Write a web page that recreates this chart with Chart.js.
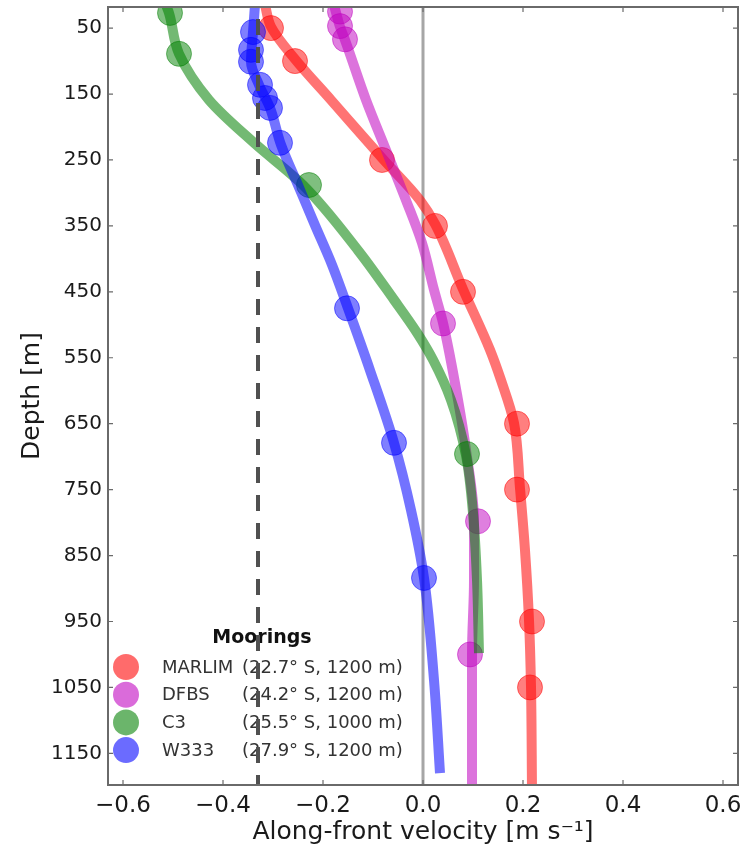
<!DOCTYPE html>
<html><head><meta charset="utf-8">
<script src="https://cdn.jsdelivr.net/npm/chart.js@4.4.1/dist/chart.umd.min.js"></script>
<style>html,body{margin:0;padding:0;background:#fff;}#wrap{width:745px;height:850px;}</style>
</head><body><div id="wrap"><canvas id="c" width="745" height="850"></canvas></div>
<script>
// ---- data ----
const moorings = ['MARLIM', 'DFBS', 'C3', 'W333'];
const mooringInfo = ['(22.7° S, 1200 m)', '(24.2° S, 1200 m)', '(25.5° S, 1000 m)', '(27.9° S, 1200 m)'];
const mooringColors = ['255,0,0', '191,0,191', '0,128,0', '0,0,255'];

// observed points
const marlimDepth = [50, 100, 250, 350, 450, 650, 750, 950, 1050];
const marlimVel   = [-0.304, -0.256, -0.082, 0.024, 0.080, 0.188, 0.188, 0.218, 0.214];
const dfbsDepth = [25, 47, 67, 498, 798, 1000];
const dfbsVel   = [-0.166, -0.166, -0.156, 0.040, 0.110, 0.094];
const c3Depth = [27, 89, 288, 696];
const c3Vel   = [-0.506, -0.488, -0.228, 0.088];
const w333Depth = [56, 83, 101, 136, 156, 171, 224, 475, 679, 884];
const w333Vel   = [-0.340, -0.344, -0.344, -0.326, -0.316, -0.306, -0.286, -0.152, -0.058, 0.002];

// fitted profiles
const marlimFitDepth = [15, 48, 97, 159, 247, 311, 347, 446, 538, 584, 649, 748, 842, 948, 1049, 1205];
const marlimFitVel   = [-0.316, -0.304, -0.256, -0.184, -0.082, -0.006, 0.024, 0.080, 0.134, 0.156, 0.182, 0.194, 0.204, 0.212, 0.216, 0.218];
const dfbsFitDepth = [15, 48, 68, 159, 235, 311, 376, 447, 497, 614, 690, 798, 887, 999, 1205];
const dfbsFitVel   = [-0.178, -0.166, -0.156, -0.114, -0.074, -0.034, -0.002, 0.022, 0.040, 0.070, 0.086, 0.102, 0.102, 0.098, 0.098];
const c3FitDepth = [15, 27, 89, 159, 224, 288, 387, 462, 512, 553, 614, 698, 785, 887, 998];
const c3FitVel   = [-0.514, -0.508, -0.488, -0.428, -0.338, -0.240, -0.130, -0.058, -0.012, 0.020, 0.056, 0.086, 0.100, 0.108, 0.112];
const w333FitDepth = [15, 56, 101, 136, 171, 227, 288, 349, 409, 475, 569, 679, 781, 884, 1039, 1180];
const w333FitVel   = [-0.336, -0.340, -0.344, -0.328, -0.306, -0.284, -0.250, -0.216, -0.182, -0.150, -0.106, -0.058, -0.024, 0.002, 0.022, 0.034];

// reference lines
const zeroVel = 0.0;
const thresholdVel = -0.33;

// axes
const xTicks = [-0.6, -0.4, -0.2, 0.0, 0.2, 0.4, 0.6];
const xTickLabels = ['−0.6', '−0.4', '−0.2', '0.0', '0.2', '0.4', '0.6'];
const yTicks = [50, 150, 250, 350, 450, 550, 650, 750, 850, 950, 1050, 1150];
const xRange = [-0.63, 0.63];
const yRange = [18, 1198];

// ---- build chart ----
const pts = (vels, depths) => vels.map((v, i) => ({x: v, y: depths[i]}));
const rgba = (c, a) => `rgba(${c},${a})`;

const fitSets = [
  [marlimFitVel, marlimFitDepth], [dfbsFitVel, dfbsFitDepth], [c3FitVel, c3FitDepth], [w333FitVel, w333FitDepth]
];
const obsSets = [
  [marlimVel, marlimDepth], [dfbsVel, dfbsDepth], [c3Vel, c3Depth], [w333Vel, w333Depth]
];

const datasets = [];
moorings.forEach((name, k) => {
  const c = mooringColors[k];
  datasets.push({
    label: name + ' fit', data: pts(fitSets[k][0], fitSets[k][1]),
    borderColor: rgba(c, 0.55), borderWidth: 10, pointRadius: 0,
    cubicInterpolationMode: 'monotone', fill: false, clip: 0,
    borderCapStyle: 'butt', order: 20 - k * 2
  });
  datasets.push({
    label: name, data: pts(obsSets[k][0], obsSets[k][1]), showLine: false,
    pointRadius: 12.5, pointBackgroundColor: rgba(c, 0.5), pointBorderColor: rgba(c, 0.5),
    pointBorderWidth: 1, clip: 0, order: 19 - k * 2
  });
});
datasets.push({
  label: 'zero', data: [{x: zeroVel, y: yRange[0] - 5}, {x: zeroVel, y: yRange[1] + 5}],
  borderColor: 'rgba(150,150,150,0.85)', borderWidth: 3, pointRadius: 0, clip: 0, order: 30
});
datasets.push({
  label: 'threshold', data: [{x: thresholdVel, y: yRange[0]}, {x: thresholdVel, y: yRange[1] + 5}],
  borderColor: 'rgba(80,80,80,1)', borderWidth: 4, borderDash: [16, 12], borderDashOffset: 16,
  pointRadius: 0, clip: 0, order: 0
});

const legendPlugin = {
  id: 'mooringLegend',
  beforeDatasetsDraw(chart) {
    const ctx = chart.ctx, a = chart.chartArea;
    ctx.save();
    ctx.textBaseline = 'middle';
    ctx.textAlign = 'center';
    ctx.fillStyle = '#111';
    ctx.font = 'bold 19px "DejaVu Sans"';
    ctx.fillText('Moorings', a.left + 154, a.top + 631);
    ctx.textAlign = 'left';
    ctx.font = '18px "DejaVu Sans"';
    moorings.forEach((name, k) => {
      const y = a.top + 660 + k * 27.7;
      ctx.beginPath();
      ctx.arc(a.left + 18, y, 13, 0, Math.PI * 2);
      ctx.fillStyle = rgba(mooringColors[k], 0.58);
      ctx.fill();
      ctx.fillStyle = '#333';
      ctx.fillText(name, a.left + 54, y + 1);
      ctx.fillText(mooringInfo[k], a.left + 134, y + 1);
    });
    ctx.restore();
  }
};

const framePlugin = {
  id: 'frame',
  afterDraw(chart) {
    const ctx = chart.ctx, a = chart.chartArea;
    const xs = chart.scales.x, ys = chart.scales.y;
    ctx.save();
    ctx.strokeStyle = '#6a6a6a';
    ctx.lineWidth = 2;
    ctx.strokeRect(a.left, a.top, a.right - a.left, a.bottom - a.top);
    ctx.lineWidth = 1.2;
    ctx.beginPath();
    xTicks.forEach(v => {
      const px = xs.getPixelForValue(v);
      ctx.moveTo(px, a.bottom); ctx.lineTo(px, a.bottom - 5);
      ctx.moveTo(px, a.top); ctx.lineTo(px, a.top + 5);
    });
    yTicks.forEach(v => {
      const py = ys.getPixelForValue(v);
      ctx.moveTo(a.left, py); ctx.lineTo(a.left + 5, py);
      ctx.moveTo(a.right, py); ctx.lineTo(a.right - 5, py);
    });
    ctx.stroke();
    ctx.restore();
  }
};

new Chart(document.getElementById('c'), {
  type: 'line',
  data: {datasets},
  options: {
    responsive: false, animation: false, devicePixelRatio: 1,
    indexAxis: 'y',
    layout: {autoPadding: false, padding: {left: 0, right: 7, top: 7, bottom: 0}},
    plugins: {legend: {display: false}, tooltip: {enabled: false}},
    scales: {
      x: {
        type: 'linear', position: 'bottom', min: xRange[0], max: xRange[1],
        grid: {display: false, drawTicks: false}, border: {display: false},
        afterBuildTicks: s => { s.ticks = xTicks.map(v => ({value: v})); },
        afterFit: s => { s.height = 65; s.paddingLeft = 0; s.paddingRight = 0; },
        ticks: {
          autoSkip: false, maxRotation: 0, padding: 7, color: '#1a1a1a',
          font: {family: 'DejaVu Sans', size: 23},
          callback: (v, i) => xTickLabels[i]
        },
        title: {display: true, text: 'Along-front velocity [m s⁻¹]', color: '#1a1a1a',
          font: {family: 'DejaVu Sans', size: 25}, padding: {top: 0, bottom: 3}}
      },
      y: {
        type: 'linear', position: 'left', reverse: true, min: yRange[0], max: yRange[1],
        grid: {display: false, drawTicks: false}, border: {display: false},
        afterBuildTicks: s => { s.ticks = yTicks.map(v => ({value: v})); },
        afterFit: s => { s.width = 108; s.paddingTop = 0; s.paddingBottom = 0; },
        ticks: {
          autoSkip: false, padding: 6, color: '#1a1a1a',
          font: {family: 'DejaVu Sans', size: 20},
          callback: (v, i) => String(yTicks[i])
        },
        title: {display: true, text: 'Depth [m]', color: '#1a1a1a',
          font: {family: 'DejaVu Sans', size: 25}, padding: {top: 17, bottom: 0}}
      }
    }
  },
  plugins: [legendPlugin, framePlugin]
});
</script></body></html>
